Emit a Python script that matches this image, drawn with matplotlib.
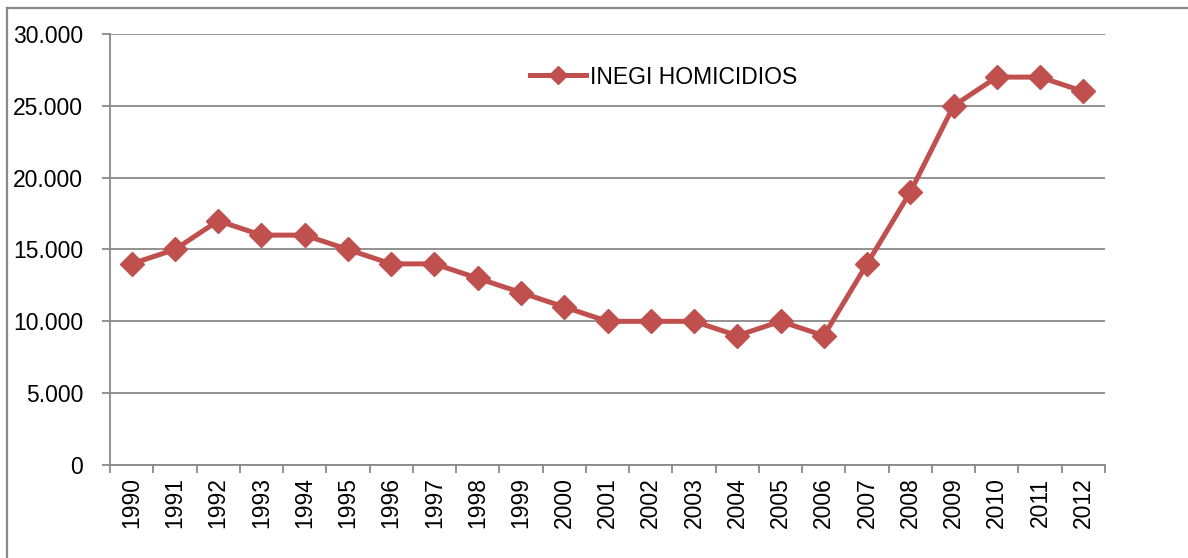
import matplotlib
matplotlib.use("Agg")
import matplotlib.pyplot as plt
from matplotlib.lines import Line2D
from matplotlib.ticker import FuncFormatter, FixedLocator

years = ["1990", "1991", "1992", "1993", "1994", "1995", "1996", "1997", "1998", "1999",
         "2000", "2001", "2002", "2003", "2004", "2005", "2006", "2007", "2008", "2009",
         "2010", "2011", "2012"]
homicidios = [14000, 15000, 17000, 16000, 16000, 15000, 14000, 14000, 13000, 12000,
              11000, 10000, 10000, 10000, 9000, 10000, 9000, 14000, 19000, 25000,
              27000, 27000, 26000]
series_name = "INEGI HOMICIDIOS"

plt.rcParams['font.family'] = ['Liberation Sans', 'DejaVu Sans']
FS = 16.5
GRAY = '#898989'
RED = '#C0504D'

fig = plt.figure(figsize=(11.88, 5.58), dpi=100)
ax = fig.add_axes([110/1188, 1-465/558, (1105-110)/1188, (465-34)/558])

x = list(range(len(years)))
line, = ax.plot(x, homicidios, color=RED, lw=3.6, marker='D', markersize=12,
                markeredgecolor=RED, markerfacecolor=RED, label=series_name,
                solid_joinstyle='round', zorder=3)

ax.set_xlim(-0.5, len(years) - 0.5)
ax.set_ylim(0, 30000)
ax.set_yticks(range(0, 30001, 5000))
ax.yaxis.set_major_formatter(FuncFormatter(lambda v, p: f"{int(v):,}".replace(",", ".")))
ax.yaxis.grid(True, color=GRAY, lw=1.3)
ax.set_axisbelow(True)

ax.xaxis.set_major_locator(FixedLocator([i - 0.5 for i in range(len(years) + 1)]))
ax.xaxis.set_major_formatter(FuncFormatter(lambda v, p: ""))
ax.xaxis.set_minor_locator(FixedLocator(x))
ax.set_xticklabels(years, minor=True, rotation=90)
ax.tick_params(axis='x', which='major', direction='out', length=5.5, width=1.3, color=GRAY)
ax.tick_params(axis='x', which='minor', length=0, pad=9, labelsize=FS)
ax.tick_params(axis='y', direction='out', length=5.8, width=1.3, color=GRAY, pad=13.5, labelsize=FS)

for s in ['top', 'right']:
    ax.spines[s].set_visible(False)
for s in ['left', 'bottom']:
    ax.spines[s].set_color(GRAY)
    ax.spines[s].set_linewidth(1.3)

leg = ax.legend(loc='center left', bbox_to_anchor=(530/1188, 1-77/558),
                bbox_transform=fig.transFigure, frameon=False, fontsize=FS,
                handlelength=2.45, handletextpad=0.15, borderpad=0, borderaxespad=0,
                markerscale=0.75)

# outer chart border (partially visible)
fig.add_artist(Line2D([6.5/1188, 6.5/1188], [0, 1-8/558], transform=fig.transFigure,
                      color=GRAY, lw=1.6))
fig.add_artist(Line2D([6.5/1188, 1], [1-8/558, 1-8/558], transform=fig.transFigure,
                      color=GRAY, lw=1.6))

fig.savefig("out.png", dpi=100)
